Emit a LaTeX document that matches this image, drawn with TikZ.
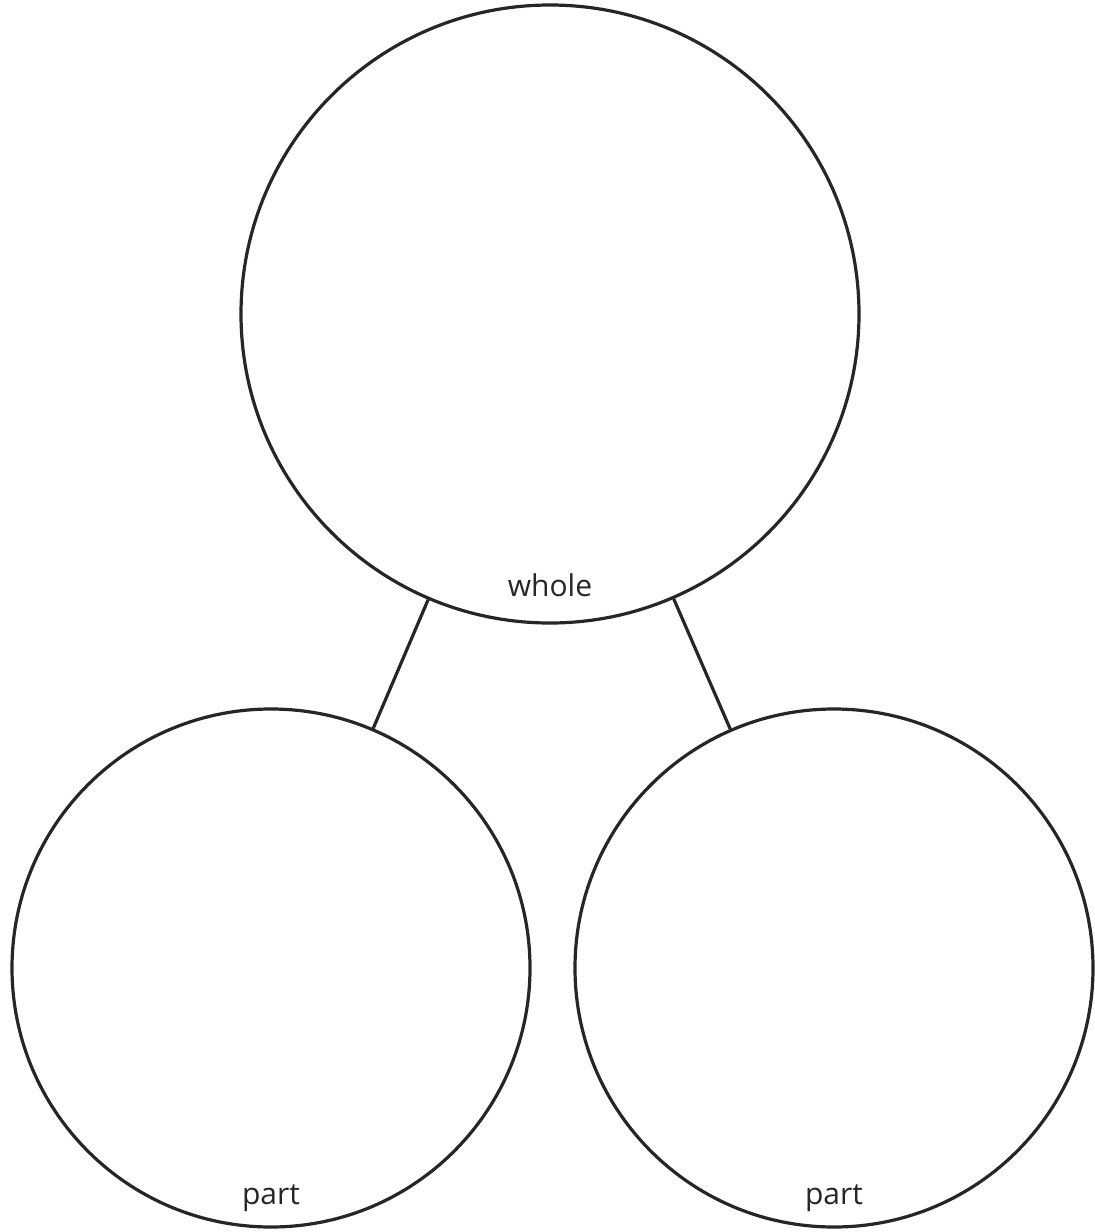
\documentclass[tikz,border=0pt]{standalone}
\usepackage{fontspec}
\setmainfont{Open Sans}
\usepackage{tikz}
\usetikzlibrary{positioning}

\begin{document}
\begin{tikzpicture}[x=0.5pt, y=-0.5pt, every node/.style={font=\fontsize{15}{18}\selectfont, text=black!85}, bigcirc/.style={draw=black!85, line width=1.6pt, circle, minimum size=309pt, inner sep=0pt}, smallcirc/.style={draw=black!85, line width=1.6pt, circle, minimum size=259pt, inner sep=0pt}, lbl/.style={inner sep=0pt}, link/.style={draw=black!85, line width=1.6pt}]
\useasboundingbox (0,0) rectangle (1094,1232);
\node[bigcirc] (whole) at (550,314) {};
\node[smallcirc] (partl) at (271,968) {};
\node[smallcirc] (partr) at (834,968) {};
\node[lbl, above=13.5pt of whole.south] (wholetxt) {whole};
\node[lbl, above=8.5pt of partl.south] (partltxt) {part};
\node[lbl, above=8.5pt of partr.south] (partrtxt) {part};
\draw[link] (whole) -- (partl); \draw[link] (whole) -- (partr);
\end{tikzpicture}
\end{document}
